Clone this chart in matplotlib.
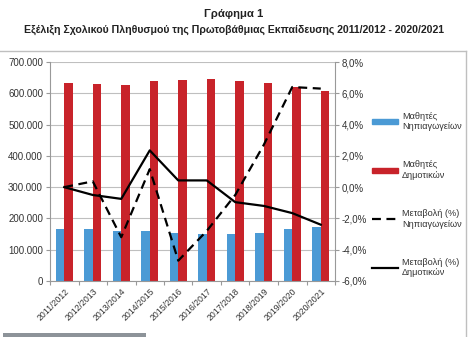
import matplotlib
matplotlib.use("Agg")
import matplotlib.pyplot as plt
from matplotlib.lines import Line2D
from matplotlib.patches import Patch, Rectangle
import numpy as np

years = ["2011/2012", "2012/2013", "2013/2014", "2014/2015", "2015/2016",
         "2016/2017", "2017/2018", "2018/2019", "2019/2020", "2020/2021"]
nipiagogeia = [165000, 166000, 160000, 161000, 155000, 150000, 150000, 155000, 166000, 174000]
dimotika = [632000, 629000, 625000, 639000, 643000, 646000, 639000, 632000, 621000, 607000]
change_nip = [0.0, 0.37, -3.2, 1.15, -4.7, -2.8, -0.5, 2.7, 6.4, 6.3]
change_dim = [0.0, -0.5, -0.75, 2.35, 0.43, 0.43, -0.96, -1.2, -1.66, -2.4]

plt.rcParams['font.family'] = ['Liberation Sans', 'DejaVu Sans']

fig = plt.figure(figsize=(4.68, 3.37), dpi=100)
ax = fig.add_axes([50/468, 1-281/337, 285/468, 219/337])
ax2 = ax.twinx()

x = np.arange(len(years))
w = 0.29
blue = "#4b9ad5"
red = "#c8232a"
ax.bar(x - w/2, nipiagogeia, w, color=blue, zorder=2)
ax.bar(x + w/2, dimotika, w, color=red, zorder=2)
ax.set_xlim(-0.5, len(years) - 0.5)
ax.set_ylim(0, 700000)
ax.set_yticks(np.arange(0, 700001, 100000))
ax.set_yticklabels(["0" if v == 0 else f"{v//1000}.000" for v in range(0, 700001, 100000)],
                   fontsize=7, color="#333333")
ax.yaxis.grid(True, color="#bfbfbf", linewidth=0.8, zorder=0)
ax.set_axisbelow(True)
ax.set_xticks(np.arange(-0.5, len(years), 1), minor=False)
ax.set_xticklabels([])
ax.set_xticks(x, minor=True)
ax.set_xticklabels(years, minor=True, rotation=45, ha="right", rotation_mode="anchor",
                   fontsize=6.3, color="#333333")
ax.tick_params(axis="x", which="minor", length=0, pad=4)
ax.tick_params(axis="x", which="major", length=3, color="#999999")
ax.tick_params(axis="y", length=3, color="#999999", pad=2)

ax2.plot(x, change_nip, color="black", linewidth=1.6, linestyle=(0, (4, 2.5)), zorder=3)
ax2.plot(x, change_dim, color="black", linewidth=1.6, zorder=3)
ax2.set_ylim(-6, 8)
ax2.set_yticks(np.arange(-6, 8.1, 2))
ax2.set_yticklabels([f"{v:.1f}%".replace(".", ",") for v in np.arange(-6, 8.1, 2)],
                    fontsize=7, color="#333333")
ax2.tick_params(axis="y", length=3, color="#999999", pad=2)

for a in (ax, ax2):
    for s in a.spines.values():
        s.set_visible(False)
ax.spines["left"].set_visible(True)
ax.spines["left"].set_color("#999999")
ax.spines["bottom"].set_visible(True)
ax.spines["bottom"].set_color("#999999")
ax2.spines["right"].set_visible(True)
ax2.spines["right"].set_color("#999999")

handles = [Patch(color=blue), Patch(color=red),
           Line2D([], [], color="black", linewidth=1.6, linestyle=(0, (4, 2.5))),
           Line2D([], [], color="black", linewidth=1.6)]
labels = ["Μαθητές\nΝηπιαγωγείων", "Μαθητές\nΔημοτικών",
          "Μεταβολή (%)\nΝηπιαγωγείων", "Μεταβολή (%)\nΔημοτικών"]
leg = fig.legend(handles, labels, loc="upper left", bbox_to_anchor=(368/468, 1-108/337),
                 frameon=False, fontsize=6.6, handlelength=2.9, handleheight=0.5,
                 labelspacing=3.2, handletextpad=0.4, borderaxespad=0)
for t in leg.get_texts():
    t.set_color("#333333")

fig.text(0.5, 1-14/337, "Γράφημα 1", ha="center", va="center", fontsize=8.2,
         fontweight="bold", color="#222222")
fig.text(0.5, 1-30/337, "Εξέλιξη Σχολικού Πληθυσμού της Πρωτοβάθμιας Εκπαίδευσης 2011/2012 - 2020/2021",
         ha="center", va="center", fontsize=7.6, fontweight="bold", color="#222222")

# outer chart frame
fig.add_artist(Line2D([0, 466/468], [1-51/337, 1-51/337], transform=fig.transFigure,
                      color="#bfbfbf", linewidth=1))
fig.add_artist(Line2D([466/468, 466/468], [0, 1-51/337], transform=fig.transFigure,
                      color="#bfbfbf", linewidth=1))
fig.add_artist(Rectangle((3/468, 0), 143/468, 4.5/337, transform=fig.transFigure,
                         color="#8d9399", linewidth=0))

fig.savefig("out.png", dpi=100)
